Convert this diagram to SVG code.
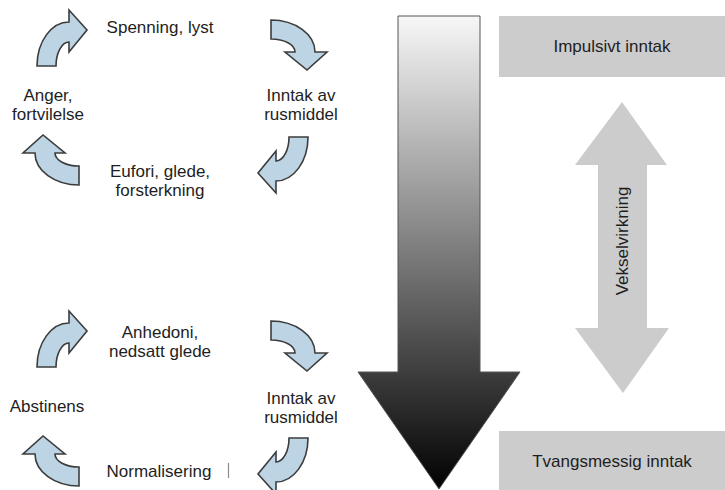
<svg xmlns="http://www.w3.org/2000/svg" width="725" height="490" viewBox="0 0 725 490">
  <style>
    text { font-family: "Liberation Sans", Arial, sans-serif; font-size: 17px; fill: #1e1e1e; text-anchor: middle; }
    .cyc { fill: #bcd4e4; stroke: #3c3c3c; stroke-width: 1.6; stroke-linejoin: miter; }
    .grey { fill: #cccccc; }
  </style>
  <defs>
    <path id="carrow" d="M-25,28 A32,44 0 0 1 7,-16 L7,-28 L25,-8 L7,14 L7,4 A13,24 0 0 0 -6,28 Z"/>
    <linearGradient id="bigGrad" x1="0" y1="16" x2="0" y2="490" gradientUnits="userSpaceOnUse">
      <stop offset="0" stop-color="#f7f7f7"/>
      <stop offset="1" stop-color="#000000"/>
    </linearGradient>
  </defs>

  <!-- Big gradient arrow -->
  <g id="progression-arrow">
    <path d="M398,16 L480,16 L480,372 L520,372 L439,489 L358,372 L398,372 Z" fill="url(#bigGrad)" stroke="#555555" stroke-width="1"/>
  </g>

  <!-- Right side boxes -->
  <g id="impulsivt">
    <rect class="grey" x="499" y="16" width="226" height="61"/>
    <text x="612" y="52">Impulsivt inntak</text>
  </g>
  <g id="tvangsmessig">
    <rect class="grey" x="499" y="431" width="226" height="59"/>
    <text x="612" y="467">Tvangsmessig inntak</text>
  </g>
  <g id="vekselvirkning">
    <path class="grey" d="M622,102 L667,165 L647,165 L647,328 L669,328 L623,393 L575,328 L598,328 L598,165 L575,165 Z"/>
    <text transform="translate(628,241) rotate(-90)">Vekselvirkning</text>
  </g>

  <!-- Upper cycle nodes -->
  <g id="spenning"><text x="160" y="33">Spenning, lyst</text></g>
  <g id="inntak1"><text x="301" y="101">Inntak av</text><text x="301" y="120">rusmiddel</text></g>
  <g id="eufori"><text x="160" y="177">Eufori, glede,</text><text x="160" y="196">forsterkning</text></g>
  <g id="anger"><text x="48" y="101">Anger,</text><text x="48" y="120">fortvilelse</text></g>

  <!-- Lower cycle nodes -->
  <g id="anhedoni"><text x="160" y="338">Anhedoni,</text><text x="160" y="357">nedsatt glede</text></g>
  <g id="inntak2"><text x="301" y="404">Inntak av</text><text x="301" y="423">rusmiddel</text></g>
  <g id="normalisering"><text x="159" y="477">Normalisering</text>
    <line x1="228.5" y1="463" x2="228.5" y2="478" stroke="#8a8a8a" stroke-width="1.2"/></g>
  <g id="abstinens"><text x="47" y="412">Abstinens</text></g>

  <!-- Cycle connectors -->
  <g id="connectors">
    <use href="#carrow" class="cyc" transform="translate(62,38)"/>
    <use href="#carrow" class="cyc" transform="translate(299,45) rotate(90)"/>
    <use href="#carrow" class="cyc" transform="translate(283,165) rotate(180)"/>
    <use href="#carrow" class="cyc" transform="translate(51,160) rotate(270)"/>
    <use href="#carrow" class="cyc" transform="translate(62,339)"/>
    <use href="#carrow" class="cyc" transform="translate(299,346) rotate(90)"/>
    <use href="#carrow" class="cyc" transform="translate(283,466) rotate(180)"/>
    <use href="#carrow" class="cyc" transform="translate(51,461) rotate(270)"/>
  </g>
</svg>
